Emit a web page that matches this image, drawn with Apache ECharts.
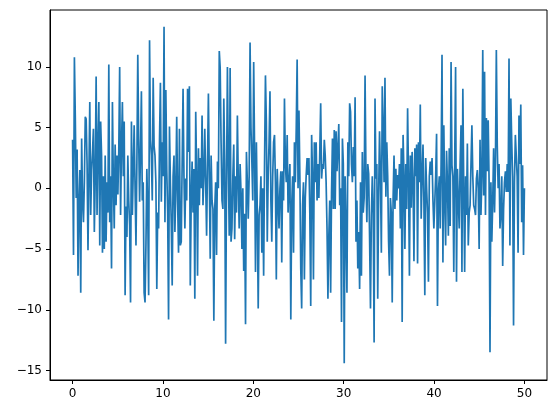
<!DOCTYPE html>
<html>
<head>
<meta charset="utf-8">
<script src="https://cdn.jsdelivr.net/npm/echarts@6/dist/echarts.min.js"></script>
<style>html,body{margin:0;padding:0;background:#fff}#c{width:554px;height:413px}</style>
</head>
<body>
<div id="c"></div>
<script>
// Series values (10 samples per x unit, x from 0 to 50)
const values = [
  4.0, -5.5, 10.8, 5.8, -0.8, 3.2, -7.2, -1.2, 1.5, -8.6,
  4.1, -1.0, -2.8, 0.5, 5.9, 5.7, 2.0, -5.1, 1.0, 7.1,
  -2.2, 1.5, 3.0, 4.9, -3.6, 0.8, 9.2, -2.2, 3.5, 7.1,
  -4.7, 5.5, 2.7, -5.3, 1.0, -5.0, 2.7, -4.4, 0.5, -2.0,
  10.2, -2.8, 1.0, -6.6, 7.1, 0.5, -3.3, 3.6, -1.4, 2.7,
  -0.5, 3.0, 10.0, -2.2, 3.5, 7.1, 1.0, 5.5, -8.8, -1.5,
  -4.0, 2.7, -1.0, -3.0, -9.4, 5.5, -2.2, 1.5, 5.2, 0.0,
  -4.7, 2.0, 11.0, 4.0, -1.1, 3.0, 8.0, -1.0, 0.5, -8.6,
  -9.4, -4.7, 1.6, -2.0, -8.8, 12.2, 4.0, 2.7, -1.0, 9.1,
  3.5, 2.7, 0.5, -8.3, -2.0, -3.3, 4.0, 8.7, -1.1, 3.8,
  1.0, 13.3, -2.8, 8.1, 1.5, -2.0, -10.8, 5.1, 0.5, -3.0,
  -8.0, 1.0, 2.7, -3.6, 0.0, 5.9, -1.0, -5.3, 4.9, -4.7,
  -4.4, 2.0, 8.2, 1.0, -3.3, 0.8, -1.0, 8.2, 3.0, 8.4,
  -8.0, -1.0, 2.2, -2.0, 1.6, -9.1, 6.3, 1.0, -7.2, 3.3,
  -1.4, 2.5, 0.0, 6.0, -1.4, 1.0, 4.9, 0.5, -3.9, 2.0,
  7.8, 1.0, -5.8, 2.7, -1.0, -1.7, -10.9, -1.7, 0.5, -5.5,
  2.2, 0.0, 11.3, 9.9, 3.8, -1.0, -1.7, 7.4, 2.0, -12.8,
  0.5, 10.0, 2.0, -3.9, 9.9, -4.4, -3.3, 1.0, 3.6, -4.2,
  1.0, -2.0, 6.0, 0.5, -3.3, 2.0, -0.3, -5.0, 0.0, -6.8,
  -2.1, -11.2, 3.0, 0.5, -2.5, 1.0, 12.0, 5.0, 2.2, -1.0,
  10.4, 3.0, -6.9, 3.8, -2.0, -9.9, -2.2, -1.4, 1.0, -5.3,
  0.0, -7.2, 2.0, 9.3, 5.5, -4.4, 1.0, 3.8, 8.0, -1.0,
  -4.4, 1.0, 3.8, 4.4, 0.5, -7.5, 1.6, -1.0, -3.3, 0.0,
  1.4, -6.1, 1.4, -1.0, 7.4, 2.0, 0.5, 4.4, -2.0, 0.4,
  2.0, -10.8, -1.4, 1.0, -5.3, 3.8, 0.5, 4.9, 10.6, 0.0,
  6.4, 1.0, -6.6, -9.9, -1.4, 0.5, -7.5, -0.8, 1.1, 2.5,
  1.1, 2.5, -2.0, -9.7, 4.4, 1.0, -7.5, 3.8, 0.5, 3.8,
  -1.0, 2.0, -0.8, 3.0, 7.0, 0.8, 2.0, 1.6, 4.0, 2.7,
  0.5, -3.3, -9.1, -3.9, -1.0, -8.6, -0.3, 4.1, -1.7, 4.8,
  -1.7, 4.7, 1.4, 3.3, 5.3, -1.4, 0.0, -11.0, 4.1, 2.0,
  -14.4, 1.0, -3.3, -8.6, 3.8, 1.0, 7.0, 6.3, 2.0, 0.5,
  3.4, 1.0, 7.5, -4.4, -1.0, -6.6, -3.6, -8.3, 0.5, -7.2,
  3.0, -2.0, -0.8, 9.3, 1.0, -2.8, 2.0, 1.2, -4.0, -9.9,
  -2.2, 1.0, -2.0, -12.7, 7.4, 0.8, 2.0, -9.1, -0.6, 4.7,
  1.0, -5.3, 8.4, 4.9, 0.5, 9.1, -0.7, 3.8, 1.0, -4.4,
  -7.2, -0.8, -2.0, -9.4, -0.8, 2.7, -1.7, 1.6, -1.0, 1.1,
  0.0, 2.0, -3.3, 3.3, -11.0, 4.4, 1.0, -5.0, 2.0, -1.7,
  6.6, 1.0, -7.2, 2.7, -1.6, 3.0, 0.5, -6.0, 3.3, 1.0,
  3.6, -6.2, 3.8, 0.5, 6.9, -2.5, 1.0, 3.6, -1.0, -8.8,
  2.5, 0.0, -2.0, -7.7, 1.0, 2.2, 1.1, 2.5, -1.0, -3.3,
  -3.3, 1.0, 4.5, -9.7, -0.3, 1.0, -3.3, 2.0, 11.0, -6.1,
  5.2, -1.1, -4.7, 3.1, 0.5, -3.9, 3.3, -3.1, 10.4, 1.9,
  1.0, -6.9, 2.0, 10.0, -7.7, 1.6, -1.0, -3.3, 2.0, 5.2,
  -6.9, 8.2, 0.0, -6.9, 1.0, -2.2, 3.7, -4.7, -2.0, -1.4,
  2.0, 5.2, 1.0, -1.4, -1.7, -2.2, 0.8, 1.5, 0.0, -5.0,
  4.0, -2.2, 1.0, 11.4, -0.6, 9.6, -2.2, 5.8, 1.4, 5.6,
  0.5, -13.5, 0.5, -4.4, -1.1, 3.3, -2.0, 2.0, 11.4, 3.6,
  0.0, 2.0, -3.3, -2.0, 1.0, -6.4, -1.7, 0.5, 1.4, -0.3,
  2.0, -0.3, 10.7, -4.7, 7.4, 3.8, 1.0, -11.3, 0.5, 4.4,
  4.4, 1.0, -5.3, 6.0, 2.0, 6.9, -2.8, 1.9, -5.5, 0.0
];
const xStart = 0;
const xEnd = 50;
const xTicks = [0, 10, 20, 30, 40, 50];
const yTicks = [-15, -10, -5, 0, 5, 10];

const n = values.length;
const points = values.map((v, i) => [xStart + (xEnd - xStart) * i / (n - 1), v]);

const chart = echarts.init(document.getElementById('c'), null, {renderer: 'canvas'});
const font = 'DejaVu Sans';
chart.setOption({
  animation: false,
  grid: {left: 50, right: 7, top: 10, bottom: 33, show: true, borderColor: '#000', borderWidth: 1, backgroundColor: 'transparent'},
  xAxis: {
    type: 'value',
    min: v => v.min - 0.05 * (v.max - v.min),
    max: v => v.max + 0.05 * (v.max - v.min),
    splitLine: {show: false},
    axisLine: {show: true, onZero: false, lineStyle: {color: '#000', width: 1}},
    axisTick: {show: true, length: 4, lineStyle: {color: '#000'}, customValues: xTicks},
    axisLabel: {color: '#000', fontFamily: font, fontSize: 12, margin: 8, customValues: xTicks, formatter: v => String(v)}
  },
  yAxis: {
    type: 'value',
    min: v => v.min - 0.05 * (v.max - v.min),
    max: v => v.max + 0.05 * (v.max - v.min),
    splitLine: {show: false},
    axisLine: {show: true, onZero: false, lineStyle: {color: '#000', width: 1}},
    axisTick: {show: true, length: 4, lineStyle: {color: '#000'}, customValues: yTicks},
    axisLabel: {color: '#000', fontFamily: font, fontSize: 12, margin: 8, customValues: yTicks, formatter: v => String(v).replace('-', '\u2212')}
  },
  series: [{
    type: 'line',
    data: points,
    showSymbol: false,
    symbol: 'none',
    lineStyle: {color: '#1f77b4', width: 1.7},
    emphasis: {disabled: true}
  }]
});
</script>
</body>
</html>
